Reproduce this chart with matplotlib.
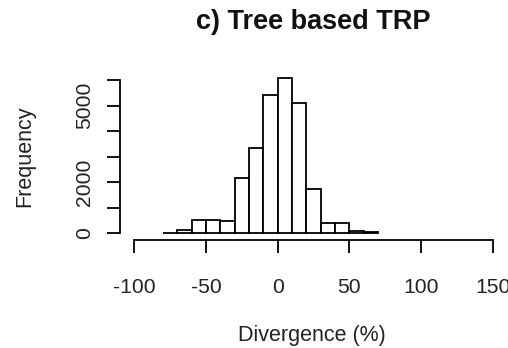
import matplotlib
matplotlib.use("Agg")
import matplotlib.pyplot as plt
import numpy as np

plt.rcParams['font.family'] = ['Liberation Sans', 'DejaVu Sans']

# Histogram data (bin edges in %, counts)
bin_edges = [-80, -70, -60, -50, -40, -30, -20, -10, 0, 10, 20, 30, 40, 50, 60, 70]
counts = [25, 130, 520, 520, 480, 2150, 3330, 5410, 6090, 5090, 1740, 390, 390, 105, 40]

x_ticks = [-100, -50, 0, 50, 100, 150]
y_ticks = [0, 1000, 2000, 3000, 4000, 5000, 6000]
y_tick_labels = ['0', '', '2000', '', '', '5000', '']

title = "c) Tree based TRP"
xlabel = "Divergence (%)"
ylabel = "Frequency"

W, H = 508, 348
fig = plt.figure(figsize=(W / 100, H / 100), dpi=100)
ax = fig.add_axes([120 / W, (H - 239.5) / H, (507 - 120) / W, (239.5 - 71.5) / H])

left = np.array(bin_edges[:-1])
widths = np.diff(bin_edges)
ax.bar(left, counts, width=widths, align='edge', facecolor='white',
       edgecolor='black', linewidth=1.3)

ax.set_xlim(-110, 160)
ax.set_ylim(-243, 6333)

for s in ['top', 'right']:
    ax.spines[s].set_visible(False)
ax.spines['left'].set_bounds(0, 6000)
ax.spines['bottom'].set_bounds(-100, 150)
for s in ['left', 'bottom']:
    ax.spines[s].set_linewidth(1.3)

ax.set_xticks(x_ticks)
ax.set_xticklabels([str(v) for v in x_ticks])
ax.set_yticks(y_ticks)
ax.set_yticklabels(y_tick_labels, rotation=90, va='center')

txtcol = '#222222'
ax.tick_params(axis='both', direction='out', length=9.7, width=1.3,
               labelsize=15.2, labelcolor=txtcol)
ax.tick_params(axis='x', pad=18)
ax.tick_params(axis='y', pad=9)

ax.set_xlabel(xlabel, fontsize=15.5, color=txtcol, va='center')
ax.xaxis.set_label_coords(0.496, (239.5 - 335.5) / 168)
ax.set_ylabel(ylabel, fontsize=15.5, color=txtcol, va='center')
ax.yaxis.set_label_coords((25 - 120) / 387, (239.5 - 156.7) / 168)

ax.set_title(title, fontsize=19.5, fontweight='bold', color='#111111',
             y=(239.5 - 29.3) / 168, va='baseline', pad=0)

fig.savefig('out.png', dpi=100, facecolor='white')
